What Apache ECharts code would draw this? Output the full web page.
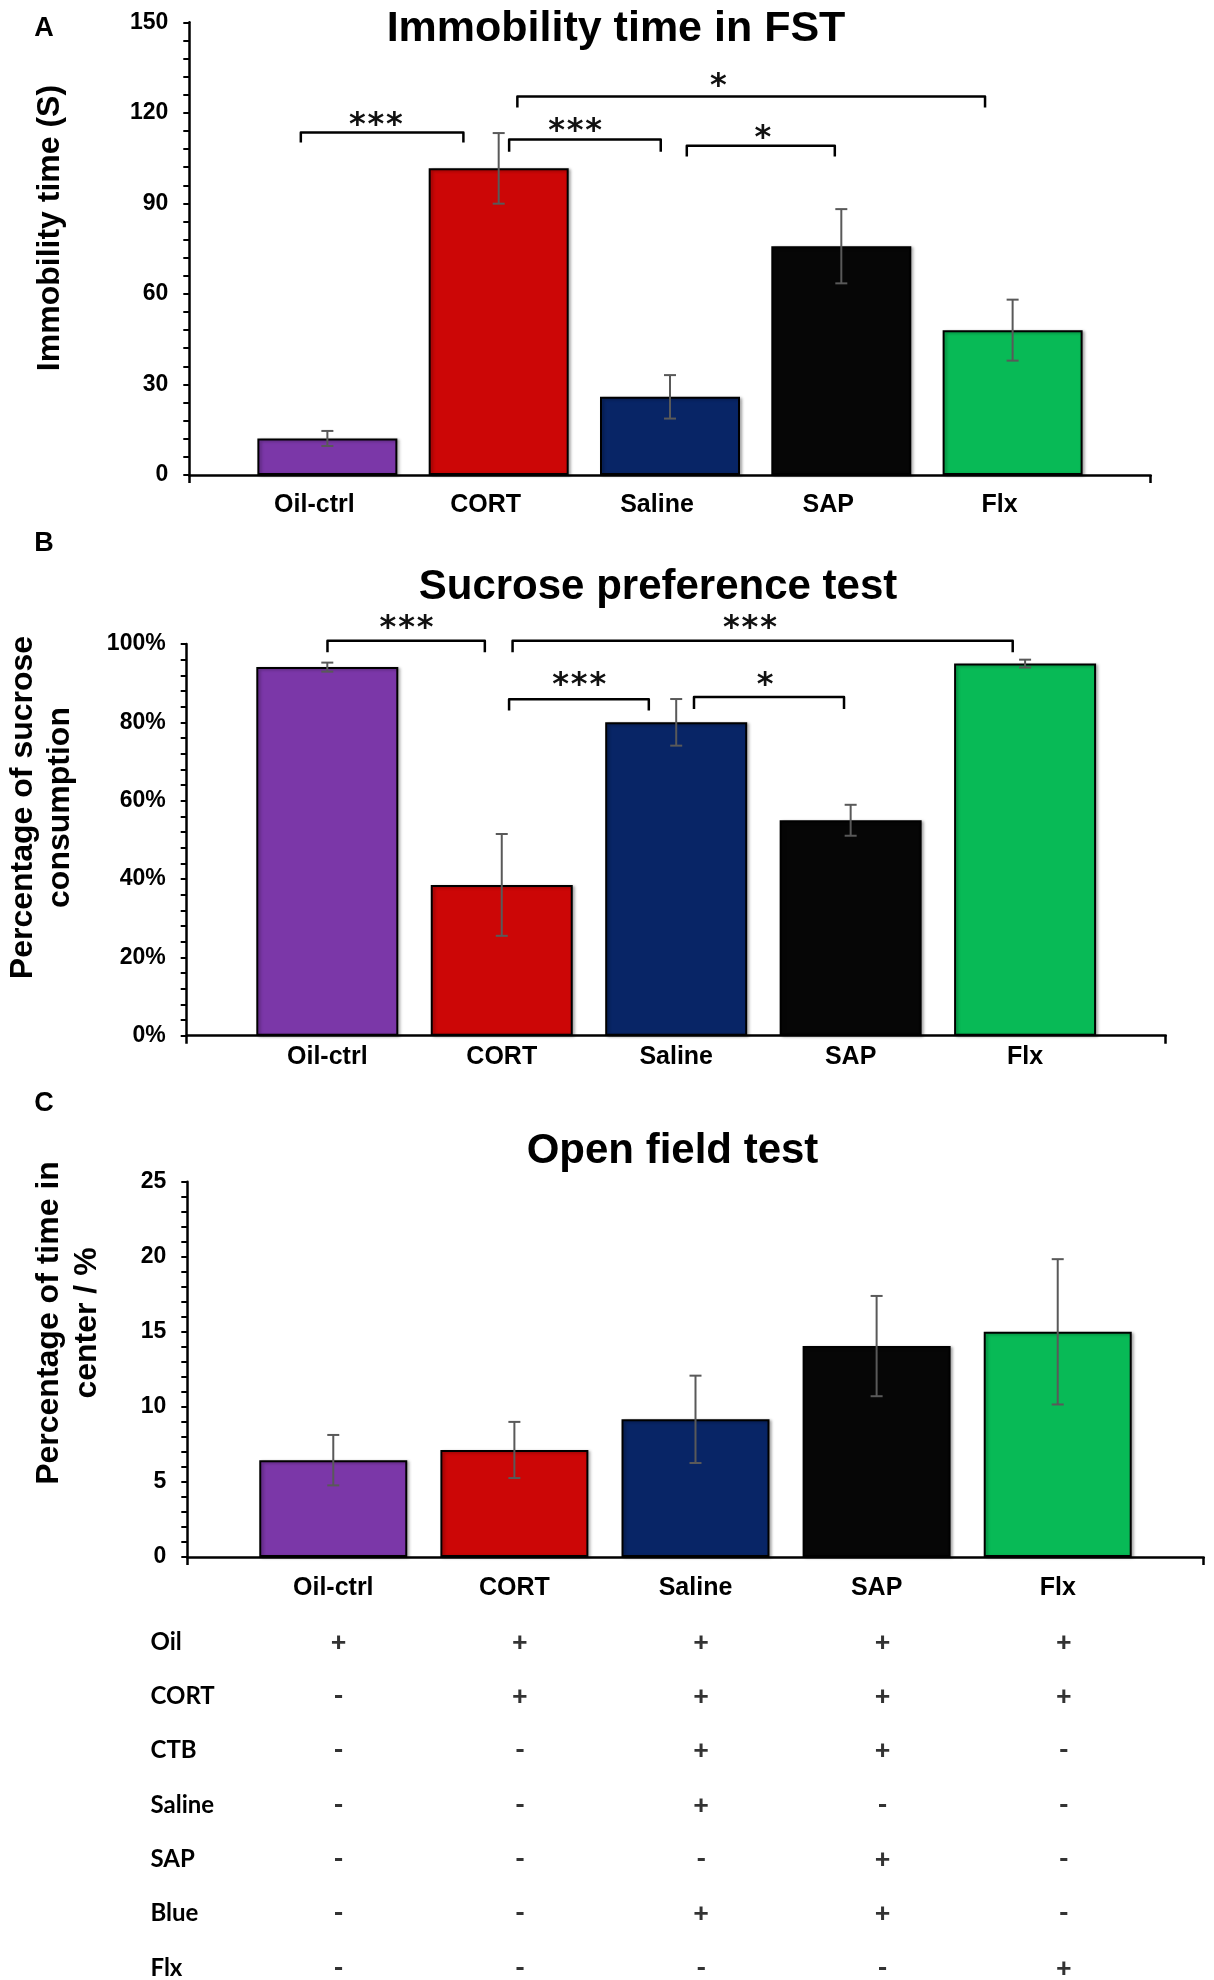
<!DOCTYPE html>
<html>
<head>
<meta charset="utf-8">
<script src="https://cdn.jsdelivr.net/npm/echarts@6/dist/echarts.min.js"></script>
<style>
html,body{margin:0;padding:0;background:#fff;}
#chart{width:1214px;height:1980px;}
</style>
</head>
<body>
<div id="chart"></div>
<script>
// ---------------- data ----------------
const groups = ['Oil-ctrl', 'CORT', 'Saline', 'SAP', 'Flx'];

// A: Immobility time in FST (s)
const fstMean = [12.1, 101.6, 25.9, 75.8, 48.0];
const fstErr  = [2.5, 11.7, 7.2, 12.3, 10.1];
// brackets: [fromX, toX, barHeight, legDrop, stars, starX, starY]
const fstSig = [
  [-0.155, 0.794, 113.5, 3.3, '***', 0.283, 118.2],
  [1.061, 1.946, 111.2, 4.1, '***', 1.446, 116.3],
  [2.098, 2.962, 109.1, 3.6, '*', 2.542, 113.8],
  [1.109, 3.839, 125.4, 3.6, '*', 2.283, 131.1]
];

// B: Sucrose preference (%)
const sptMean = [94.1, 38.5, 80.0, 55.0, 95.0];
const sptErr  = [1.15, 13.0, 5.95, 3.95, 1.0];
const sptSig = [
  [0.001, 0.903, 100.8, 2.9, '***', 0.454, 105.7],
  [1.062, 3.929, 100.8, 2.9, '***', 2.423, 105.7],
  [1.042, 1.843, 85.9, 2.9, '***', 1.444, 91.2],
  [2.102, 2.962, 86.5, 3.1, '*', 2.51, 91.2]
];

// C: Open field, % time in centre
const oftMean = [6.45, 7.13, 9.17, 14.05, 15.0];
const oftErr  = [1.68, 1.87, 2.91, 3.34, 4.84];

// treatment table
const rowNames = ['Oil', 'CORT', 'CTB', 'Saline', 'SAP', 'Blue', 'Flx'];
const treatOil    = ['+', '+', '+', '+', '+'];
const treatCORT   = ['-', '+', '+', '+', '+'];
const treatCTB    = ['-', '-', '+', '+', '-'];
const treatSaline = ['-', '-', '+', '-', '-'];
const treatSAP    = ['-', '-', '-', '+', '-'];
const treatBlue   = ['-', '-', '+', '+', '-'];
const treatFlx    = ['-', '-', '-', '-', '+'];
const treatRows = [treatOil, treatCORT, treatCTB, treatSaline, treatSAP, treatBlue, treatFlx];

// ---------------- styles ----------------
const barColors = ['#7B37A8', '#CC0606', '#082566', '#060606', '#08BA56'];
const FONT = '"Liberation Sans", Arial, sans-serif';
const XMIN = -0.806, XMAX = 4.806;

const panels = [
  { grid: {left: 189.3, right: 63.3, top: 22.3, height: 452.7}, ymax: 150, yint: 30,
    fmt: v => String(v), means: fstMean, errs: fstErr, sig: fstSig, barW: 140, labMargin: 18, labPad: [0, 26, 0, 0] },
  { grid: {left: 186.7, right: 48.3, top: 644, height: 391.7}, ymax: 100, yint: 20,
    fmt: v => v + '%', means: sptMean, errs: sptErr, sig: sptSig, barW: 142, labMargin: 9, labPad: 0 },
  { grid: {left: 187.3, right: 10.3, top: 1181.7, height: 375.3}, ymax: 25, yint: 5,
    fmt: v => String(v), means: oftMean, errs: oftErr, sig: [], barW: 148, labMargin: 19, labPad: 0 }
];

function errRender(params, api) {
  const x = api.value(0), m = api.value(1), e = api.value(2);
  const t = api.coord([x, m + e]), b = api.coord([x, m - e]);
  const cap = 6;
  const st = {stroke: '#595959', lineWidth: 2};
  return {type: 'group', children: [
    {type: 'line', shape: {x1: t[0], y1: t[1], x2: b[0], y2: b[1]}, style: st},
    {type: 'line', shape: {x1: t[0] - cap, y1: t[1], x2: t[0] + cap, y2: t[1]}, style: st},
    {type: 'line', shape: {x1: b[0] - cap, y1: b[1], x2: b[0] + cap, y2: b[1]}, style: st}
  ]};
}

function sigRenderer(sig) {
  return function (params, api) {
    const s = sig[params.dataIndex];
    const x1 = s[0], x2 = s[1], y = s[2], drop = s[3], stars = s[4], sx = s[5], sy = s[6];
    const p1 = api.coord([x1, y - drop]), p2 = api.coord([x1, y]);
    const p3 = api.coord([x2, y]), p4 = api.coord([x2, y - drop]);
    const sc = api.coord([sx, sy]);
    const children = [{
      type: 'polyline', shape: {points: [p1, p2, p3, p4]},
      style: {stroke: '#000', lineWidth: 2.5, fill: null, lineJoin: 'round'}
    }];
    const n = stars.length, gap = 18.6, fs = 32;
    for (let k = 0; k < n; k++) {
      children.push({
        type: 'text', x: sc[0] + (k - (n - 1) / 2) * gap, y: sc[1] + 0.23 * fs,
        style: {text: '*', fontFamily: '"DejaVu Sans", sans-serif', fontWeight: 'bold', fontSize: fs, fill: '#111',
                align: 'center', verticalAlign: 'middle'}
      });
    }
    return {type: 'group', children};
  };
}

const grids = [], xAxes = [], yAxes = [], series = [];
panels.forEach((p, i) => {
  grids.push(p.grid);
  xAxes.push({
    type: 'value', gridIndex: i, min: XMIN, max: XMAX,
    splitLine: {show: false},
    axisLine: {show: true, onZero: false, lineStyle: {color: '#000', width: 2.5}},
    axisTick: {show: true, customValues: [XMIN, XMAX], length: 8, lineStyle: {color: '#000', width: 2.5}},
    axisLabel: {show: true, customValues: [0, 1, 2, 3, 4], formatter: v => groups[Math.round(v)],
                margin: p.labMargin, padding: p.labPad, fontSize: 25, fontWeight: 'bold', color: '#000', fontFamily: FONT}
  });
  yAxes.push({
    type: 'value', gridIndex: i, min: 0, max: p.ymax, interval: p.yint,
    splitLine: {show: false}, minorSplitLine: {show: false},
    axisLine: {show: true, onZero: false, lineStyle: {color: '#000', width: 2.5}},
    axisTick: {show: true, length: 6, lineStyle: {color: '#000', width: 2}},
    minorTick: {show: true, splitNumber: 5, length: 6, lineStyle: {color: '#000', width: 2}},
    axisLabel: {margin: 21, fontSize: 23, fontWeight: 'bold', color: '#000', fontFamily: FONT,
                formatter: p.fmt}
  });
  series.push({
    type: 'bar', xAxisIndex: i, yAxisIndex: i, barWidth: p.barW,
    data: p.means.map((m, k) => ({value: [k, m], itemStyle: {color: barColors[k]}})),
    itemStyle: {borderColor: '#000', borderWidth: 2,
                shadowColor: 'rgba(0,0,0,0.3)', shadowBlur: 3, shadowOffsetX: 2, shadowOffsetY: 1},
    emphasis: {disabled: true}, z: 2
  });
  series.push({
    type: 'custom', xAxisIndex: i, yAxisIndex: i, renderItem: errRender, z: 3,
    data: p.means.map((m, k) => [k, m, p.errs[k]])
  });
  if (p.sig.length) {
    series.push({
      type: 'custom', xAxisIndex: i, yAxisIndex: i, renderItem: sigRenderer(p.sig), z: 4, clip: false,
      data: p.sig.map(s => [s[0], s[2]])
    });
  }
});

// treatment table grid
grids.push({left: 248, right: 59.6, top: 1642, bottom: 11.7});
xAxes.push({type: 'value', gridIndex: 3, min: -0.5, max: 4.5, show: false});
yAxes.push({
  type: 'category', gridIndex: 3, data: rowNames, inverse: true, boundaryGap: false,
  axisLine: {show: false}, axisTick: {show: false}, splitLine: {show: false},
  axisLabel: {align: 'left', margin: 97.5, fontFamily: 'Lato, sans-serif', fontWeight: 'bold',
              fontSize: 24, color: '#000'}
});
const tableData = [];
treatRows.forEach((row, r) => row.forEach((v, c) => tableData.push([c, r, v])));
series.push({
  type: 'scatter', xAxisIndex: 3, yAxisIndex: 3, symbolSize: 0.1,
  itemStyle: {color: 'rgba(0,0,0,0)'},
  label: {show: true, position: 'inside', formatter: p => p.data[2],
          fontFamily: 'Lato, sans-serif', fontWeight: 900, fontSize: 27, color: '#000'},
  emphasis: {disabled: true},
  data: tableData
});

function txt(text, x, y, size, opts) {
  return Object.assign({
    type: 'text', x: x, y: y,
    style: Object.assign({text: text, fontFamily: FONT, fontWeight: 'bold', fontSize: size,
                          fill: '#000', align: 'center', verticalAlign: 'middle'}, (opts && opts.style) || {})
  }, (opts && opts.el) || {});
}

const graphics = [
  txt('A', 44, 29, 27),
  txt('B', 44, 544, 27),
  txt('C', 44, 1104, 27),
  txt('Immobility time in FST', 616, 29, 43),
  txt('Sucrose preference test', 658, 587.5, 42),
  txt('Open field test', 672.5, 1151.5, 42),
  txt('Immobility time (S)', 50.5, 228, 32, {el: {rotation: Math.PI / 2}}),
  txt('Percentage of sucrose\nconsumption', 42, 807.5, 32, {el: {rotation: Math.PI / 2}, style: {lineHeight: 37}}),
  txt('Percentage of time in\ncenter / %', 68.5, 1323, 32, {el: {rotation: Math.PI / 2}, style: {lineHeight: 38}})
];

const chart = echarts.init(document.getElementById('chart'), null, {renderer: 'canvas'});
chart.setOption({
  animation: false,
  backgroundColor: '#fff',
  textStyle: {fontFamily: FONT},
  grid: grids, xAxis: xAxes, yAxis: yAxes, series: series,
  graphic: graphics
});
</script>
</body>
</html>
